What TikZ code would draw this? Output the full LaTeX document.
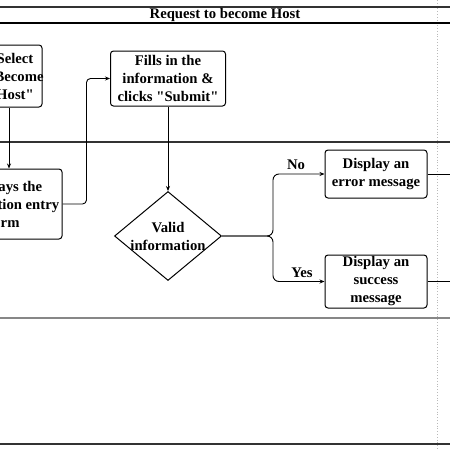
\documentclass[tikz,border=0pt]{standalone}
\usepackage{fontspec}
\newfontfamily\boxserif{Liberation Serif}
\usetikzlibrary{shapes.geometric,arrows.meta}
\definecolor{lanedark}{RGB}{50,50,50}
\definecolor{lanegray}{RGB}{135,135,135}
\definecolor{dotgray}{RGB}{185,185,185}
\tikzset{
    txt/.style={align=center, inner sep=1pt, font=\boxserif\bfseries\fontsize{14.7}{18}\selectfont},
    procbox/.style={txt, draw, rounded corners=3pt, line width=1pt},
    decision/.style={diamond, draw, line width=1pt, inner sep=0pt, minimum width=107pt, minimum height=89pt},
    flow/.style={-{Stealth[length=5pt,width=4pt]}, line width=0.9pt}
}

\begin{document}
\begin{tikzpicture}[x=1pt, y=-1pt]
    \useasboundingbox (0,0) rectangle (450,450);
    \clip (0,0) rectangle (450,450);

    \draw[dotgray, dotted, line width=0.8pt] (437,0) -- (437,450);
    \draw[lanedark, line width=1.1pt] (0,7) -- (450,7);
    \draw[black, line width=1.1pt] (0,23) -- (450,23);
    \draw[lanedark, line width=1.1pt] (0,142) -- (450,142);
    \draw[lanegray, line width=2pt] (0,318) -- (450,318);
    \draw[lanedark, line width=1.1pt] (0,444) -- (450,444);
    \node[txt] (title) at (225,15) {Request to become Host};

    \node[procbox, minimum width=66pt, minimum height=62pt] (sel) at (9,76) {};
    \node[txt] (seltxt) at (15,76) {Select\\"Become\\Host"};
    \node[procbox, minimum width=116pt, minimum height=70pt] (disp) at (4,204) {Displays the\\registration entry\\form};
    \node[procbox, minimum width=115pt, minimum height=55pt] (fill) at (168,78.5) {Fills in the\\information \&\\clicks "Submit"};
    \node[decision] (valid) at (168,236) {};
    \node[txt] (validtxt) at (valid) {Valid\\information};
    \node[procbox, minimum width=102pt, minimum height=48pt] (err) at (376,174) {Display an\\error message};
    \node[procbox, minimum width=102pt, minimum height=53pt] (suc) at (376,281.5) {Display an\\success\\message};
    \coordinate (split) at (273,236);

    \draw[flow] (sel.south) -- (sel.south |- disp.north);
    \draw[flow, rounded corners=4pt] (disp.east) -- ++(24,0) |- (fill.west);
    \draw[flow] (fill.south) -- (valid.north);
    \draw[flow, rounded corners=6pt] (valid.east) -- (split) |- (err.west);
    \draw[flow, rounded corners=6pt] (valid.east) -- (split) |- (suc.west);
    \node[txt] (no) at (296,165) {No};
    \node[txt] (yes) at (302,273) {Yes};
    \draw[line width=0.9pt] (err.east) -- ++(40,0);
    \draw[line width=0.9pt] (suc.east) -- ++(40,0);
\end{tikzpicture}
\end{document}
